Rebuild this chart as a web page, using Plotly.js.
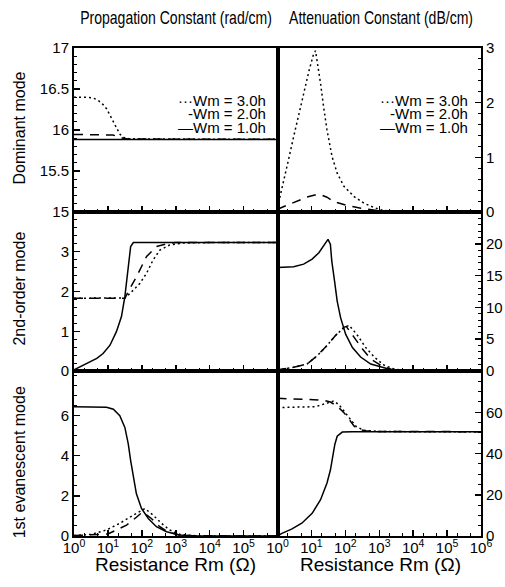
<!DOCTYPE html>
<html>
<head>
<meta charset="utf-8">
<script src="https://cdn.plot.ly/plotly-3.0.1.min.js"></script>
<style>html,body{margin:0;padding:0;background:#fff;}#chart{width:505px;height:587px;}</style>
</head>
<body>
<div id="chart"></div>
<script>
// ---------- Data (Rm in ohms) ----------
// Dominant mode – propagation constant (rad/cm)
const domPropR3 = [1, 2, 3.7, 5.2, 7.2, 9.1, 11.5, 14.5, 17.8, 22.4, 28, 40, 100, 1000, 1e4, 1e5, 1e6];
const domPropW3 = [16.40, 16.40, 16.39, 16.36, 16.31, 16.26, 16.18, 16.10, 16.02, 15.95, 15.91, 15.895, 15.89, 15.888, 15.887, 15.886, 15.886];
const domPropR2 = [1, 5, 10, 14, 20, 28, 40, 100, 1000, 1e4, 1e5, 1e6];
const domPropW2 = [15.945, 15.945, 15.943, 15.938, 15.92, 15.90, 15.89, 15.888, 15.887, 15.886, 15.886, 15.886];
const domPropR1 = [1, 10, 100, 1000, 1e4, 1e5, 1e6];
const domPropW1 = [15.885, 15.885, 15.885, 15.885, 15.885, 15.885, 15.885];

// Dominant mode – attenuation constant (dB/cm)
const domAttR3 = [1, 1.5, 2.1, 3, 4.2, 5.9, 8.3, 11.2, 13.2, 14.8, 18.6, 22.9, 28.8, 40.7, 57.5, 91, 182, 355, 708, 1260, 3160, 1e4, 1e5, 1e6];
const domAttW3 = [0.08, 0.53, 0.95, 1.38, 1.80, 2.16, 2.56, 2.86, 2.95, 2.77, 2.35, 1.92, 1.50, 1.01, 0.71, 0.47, 0.28, 0.16, 0.08, 0.03, 0.01, 0, 0, 0];
const domAttR2 = [1, 1.9, 3.6, 7.2, 12.6, 17.8, 28.8, 45.7, 112, 288, 1000, 1e4, 1e6];
const domAttW2 = [0.05, 0.12, 0.18, 0.27, 0.31, 0.32, 0.27, 0.19, 0.12, 0.07, 0.02, 0, 0];
const domAttR1 = [1, 10, 30, 100, 1000, 1e6];
const domAttW1 = [0.01, 0.02, 0.02, 0.01, 0, 0];

// 2nd-order mode – propagation constant
const m2PropR1 = [1, 1.9, 3, 4.7, 7.2, 11.5, 17.8, 25.1, 31.6, 37.2, 42.7, 46.8, 56.2, 100, 1000, 1e4, 1e5, 1e6];
const m2PropW1 = [0.03, 0.15, 0.23, 0.32, 0.44, 0.65, 0.99, 1.37, 1.87, 2.37, 2.88, 3.13, 3.23, 3.23, 3.23, 3.23, 3.23, 3.23];
const m2PropR2 = [1, 31.6, 44.7, 69.2, 138, 269, 537, 1000, 1e4, 1e5, 1e6];
const m2PropW2 = [1.83, 1.83, 2.08, 2.37, 2.88, 3.13, 3.20, 3.23, 3.23, 3.23, 3.23];
const m2PropR3 = [1, 31.6, 44.7, 87, 138, 214, 339, 661, 1580, 1e4, 1e6];
const m2PropW3 = [1.83, 1.84, 1.95, 2.20, 2.46, 2.79, 3.04, 3.17, 3.22, 3.23, 3.23];

// 2nd-order mode – attenuation constant
const m2AttR1 = [1, 3, 5.9, 10.5, 16.6, 22.9, 30.9, 36.3, 39.8, 47.9, 57.5, 72.4, 102, 162, 282, 562, 1120, 2240, 5010, 1e4, 1e6];
const m2AttW1 = [16.27, 16.4, 16.8, 17.6, 18.6, 19.7, 20.7, 19.9, 17.3, 14.2, 11.0, 8.4, 5.8, 3.7, 2.2, 1.1, 0.6, 0.2, 0.05, 0, 0];
const m2AttR2 = [1, 1.5, 3, 7.4, 14.8, 28.8, 51.3, 91.2, 107, 182, 316, 562, 1120, 2240, 5010, 1e4, 1e6];
const m2AttW2 = [0.2, 0.35, 0.6, 1.1, 2.4, 4.0, 5.6, 6.9, 7.0, 5.3, 3.5, 1.9, 0.9, 0.3, 0.05, 0, 0];
const m2AttR3 = [1, 1.5, 3, 7.4, 14.8, 28.8, 51.3, 91.2, 129, 229, 398, 708, 1410, 2820, 6310, 15800, 1e6];
const m2AttW3 = [0.2, 0.35, 0.6, 1.1, 2.4, 4.0, 5.6, 6.8, 7.2, 5.6, 3.7, 2.2, 0.9, 0.3, 0.05, 0, 0];

// 1st evanescent mode – propagation constant
const evPropR1 = [1, 5, 9.1, 14.5, 22.4, 31.6, 39.8, 46.8, 56.2, 69.2, 97.7, 155, 269, 537, 1260, 3160, 1e4, 1e6];
const evPropW1 = [6.42, 6.41, 6.40, 6.30, 5.98, 5.40, 4.58, 3.75, 2.93, 2.10, 1.37, 0.87, 0.46, 0.21, 0.05, 0.01, 0, 0];
const evPropR3 = [1, 3.2, 9.1, 22.4, 56.2, 123, 214, 380, 661, 1320, 3160, 1e4, 1e6];
const evPropW3 = [0.02, 0.08, 0.30, 0.63, 1.04, 1.37, 1.04, 0.63, 0.30, 0.08, 0.02, 0, 0];
const evPropR2 = [1, 10, 17.8, 35.5, 69.2, 105, 191, 339, 589, 1260, 3160, 1e6];
const evPropW2 = [0.02, 0.10, 0.30, 0.54, 0.93, 1.20, 0.87, 0.46, 0.20, 0.05, 0.01, 0];

// 1st evanescent mode – attenuation constant
const evAttR1 = [1, 1.35, 2.6, 5.2, 10.5, 18.6, 28.8, 36.3, 42.7, 49, 57.5, 81.3, 158, 1000, 1e4, 1e5, 1e6];
const evAttW1 = [0, 1.3, 3.3, 6.2, 11, 17.6, 25.7, 32, 38.7, 44.4, 48.4, 50.4, 50.6, 50.6, 50.6, 50.6, 50.6];
const evAttR2 = [1, 4, 15.8, 25.7, 36.3, 57.5, 91.2, 129, 182, 251, 398, 1000, 1e4, 1e6];
const evAttW2 = [66.8, 66.5, 66.0, 65.6, 65.0, 63.0, 59.8, 56.6, 53.3, 51.7, 51.0, 50.7, 50.6, 50.6];
const evAttR3 = [1, 4, 13.2, 32.4, 45.7, 64.6, 91.2, 129, 209, 355, 1000, 1e4, 1e6];
const evAttW3 = [62.3, 62.5, 62.7, 64.7, 65.5, 63.7, 60.5, 57.2, 53.1, 51.2, 50.7, 50.6, 50.6];

// Tick labels and texts
const decadeVals = [1, 10, 100, 1000, 1e4, 1e5, 1e6];
const decadeTextLeft = ['10<sup>0</sup>', '10<sup>1</sup>', '10<sup>2</sup>', '10<sup>3</sup>', '10<sup>4</sup>', '10<sup>5</sup>', ''];
const decadeTextRight = ['10<sup>0</sup>', '10<sup>1</sup>', '10<sup>2</sup>', '10<sup>3</sup>', '10<sup>4</sup>', '10<sup>5</sup>', '10<sup>6</sup>'];
const legendLabels = ['\u00B7\u00B7\u00B7Wm = 3.0h', '-Wm = 2.0h', '\u2014Wm = 1.0h'];
const rowTitles = ['Dominant mode', '2nd-order mode', '1st evanescent mode'];
const colTitles = ['Propagation Constant (rad/cm)', 'Attenuation Constant (dB/cm)'];
const xTitle = 'Resistance Rm (\u03A9)';

// ---------- Styles ----------
const S1 = {color: 'black', width: 1.5, dash: 'solid'};
const S2 = {color: 'black', width: 1.5, dash: '9px,7px'};
const S3 = {color: 'black', width: 1.5, dash: '2px,3px'};

function tr(x, y, n, line, name) {
  return {x: x, y: y, xaxis: 'x' + (n === 1 ? '' : n), yaxis: 'y' + (n === 1 ? '' : n),
          mode: 'lines', line: line, name: name, showlegend: false, hoverinfo: 'skip'};
}

const data = [
  tr(domPropR1, domPropW1, 1, S1, 'Wm=1.0h'), tr(domPropR2, domPropW2, 1, S2, 'Wm=2.0h'), tr(domPropR3, domPropW3, 1, S3, 'Wm=3.0h'),
  tr(domAttR1, domAttW1, 2, S1, 'Wm=1.0h'), tr(domAttR2, domAttW2, 2, S2, 'Wm=2.0h'), tr(domAttR3, domAttW3, 2, S3, 'Wm=3.0h'),
  tr(m2PropR1, m2PropW1, 3, S1, 'Wm=1.0h'), tr(m2PropR2, m2PropW2, 3, S2, 'Wm=2.0h'), tr(m2PropR3, m2PropW3, 3, S3, 'Wm=3.0h'),
  tr(m2AttR1, m2AttW1, 4, S1, 'Wm=1.0h'), tr(m2AttR2, m2AttW2, 4, S2, 'Wm=2.0h'), tr(m2AttR3, m2AttW3, 4, S3, 'Wm=3.0h'),
  tr(evPropR1, evPropW1, 5, S1, 'Wm=1.0h'), tr(evPropR2, evPropW2, 5, S2, 'Wm=2.0h'), tr(evPropR3, evPropW3, 5, S3, 'Wm=3.0h'),
  tr(evAttR1, evAttW1, 6, S1, 'Wm=1.0h'), tr(evAttR2, evAttW2, 6, S2, 'Wm=2.0h'), tr(evAttR3, evAttW3, 6, S3, 'Wm=3.0h')
];

const FONT = 'Liberation Sans, Arial, sans-serif';
const tickFont = {family: FONT, size: 15, color: 'black'};
const rowDom = [[0.664, 1], [0.338, 0.664], [0, 0.338]];
const colDom = [[0, 0.5], [0.5, 1]];

function xax(col, row, labels) {
  const n = row * 2 + col + 1;
  return {
    type: 'log', range: [0, 6], domain: colDom[col], anchor: 'y' + (n === 1 ? '' : n),
    showline: true, linewidth: 2, linecolor: 'black', mirror: true,
    ticks: 'inside', ticklen: 6, tickwidth: 1.5, tickcolor: 'black',
    tickmode: 'array', tickvals: decadeVals,
    ticktext: col === 0 ? decadeTextLeft : decadeTextRight,
    showticklabels: labels, tickfont: tickFont, ticklabelstandoff: -3,
    showgrid: false, zeroline: false,
    minor: {ticks: 'inside', ticklen: 3, tickwidth: 1, tickcolor: 'black', dtick: 'D2', showgrid: false}
  };
}

function yax(col, row, range, tickvals, ticktext, minorD) {
  const n = row * 2 + col + 1;
  return {
    domain: rowDom[row], anchor: 'x' + (n === 1 ? '' : n), range: range,
    side: col === 0 ? 'left' : 'right',
    showline: true, linewidth: 2, linecolor: 'black', mirror: true,
    ticks: 'inside', ticklen: 6, tickwidth: 1.5, tickcolor: 'black',
    tickmode: 'array', tickvals: tickvals, ticktext: ticktext,
    tickfont: tickFont, showgrid: false, zeroline: false,
    minor: {ticks: 'inside', ticklen: 3, tickwidth: 1, tickcolor: 'black', dtick: minorD, showgrid: false}
  };
}

const layout = {
  width: 505, height: 587,
  margin: {l: 74, r: 24, t: 48, b: 51, pad: 0},
  paper_bgcolor: 'white', plot_bgcolor: 'white',
  showlegend: false,
  font: {family: FONT, color: 'black'},
  xaxis: xax(0, 0, false), xaxis2: xax(1, 0, false),
  xaxis3: xax(0, 1, false), xaxis4: xax(1, 1, false),
  xaxis5: xax(0, 2, true), xaxis6: xax(1, 2, true),
  yaxis: yax(0, 0, [15, 17], [15, 15.5, 16, 16.5, 17], ['15', '15.5', '16', '16.5', '17'], 0.1),
  yaxis2: yax(1, 0, [0, 3], [0, 1, 2, 3], ['0', '1', '2', '3'], 0.2),
  yaxis3: yax(0, 1, [0, 4], [0, 1, 2, 3], ['0', '1', '2', '3'], 0.2),
  yaxis4: yax(1, 1, [0, 25], [0, 5, 10, 15, 20], ['0', '5', '10', '15', '20'], 1),
  yaxis5: yax(0, 2, [0, 8.2], [0, 2, 4, 6], ['0', '2', '4', '6'], 0.5),
  yaxis6: yax(1, 2, [0, 80], [0, 20, 40, 60], ['0', '20', '40', '60'], 5),
  annotations: []
};

// Column titles (condensed afterwards)
const titleFont = {family: FONT, size: 18, color: 'black'};
layout.annotations.push({text: colTitles[0], xref: 'paper', yref: 'paper', x: 0.25, y: 1.0615, xanchor: 'center', yanchor: 'middle', showarrow: false, font: titleFont});
layout.annotations.push({text: colTitles[1], xref: 'paper', yref: 'paper', x: 0.755, y: 1.0615, xanchor: 'center', yanchor: 'middle', showarrow: false, font: titleFont});

// X-axis titles
[0.25, 0.752].forEach(x => {
  layout.annotations.push({text: xTitle, xref: 'paper', yref: 'paper', x: x, y: -0.059, xanchor: 'center', yanchor: 'middle',
    showarrow: false, font: {family: FONT, size: 19, color: 'black'}});
});

// Row titles
const rowTitleY = [0.836, 0.508, 0.152];
rowTitles.forEach((t, i) => {
  layout.annotations.push({text: t, xref: 'paper', yref: 'paper', x: -0.134, y: rowTitleY[i], xanchor: 'center', yanchor: 'middle',
    textangle: -90, showarrow: false, font: {family: FONT, size: 16, color: 'black'}});
});

// Legends (top panels)
const legY = [0.893, 0.866, 0.838];
const legX = [0.4767, 0.973];
legX.forEach(x => {
  legendLabels.forEach((t, i) => {
    layout.annotations.push({text: t, xref: 'paper', yref: 'paper', x: x, y: legY[i], xanchor: 'right', yanchor: 'middle',
      showarrow: false, font: {family: FONT, size: 15, color: 'black'}});
  });
});

Plotly.newPlot('chart', data, layout, {staticPlot: true, displayModeBar: false}).then(() => {
  document.querySelectorAll('#chart .annotation-text').forEach(el => {
    if (colTitles.indexOf(el.textContent) >= 0) {
      el.style.transformBox = 'fill-box';
      el.style.transformOrigin = 'center';
      el.style.transform = 'scaleX(0.78)';
    }
  });
});
</script>
</body>
</html>
